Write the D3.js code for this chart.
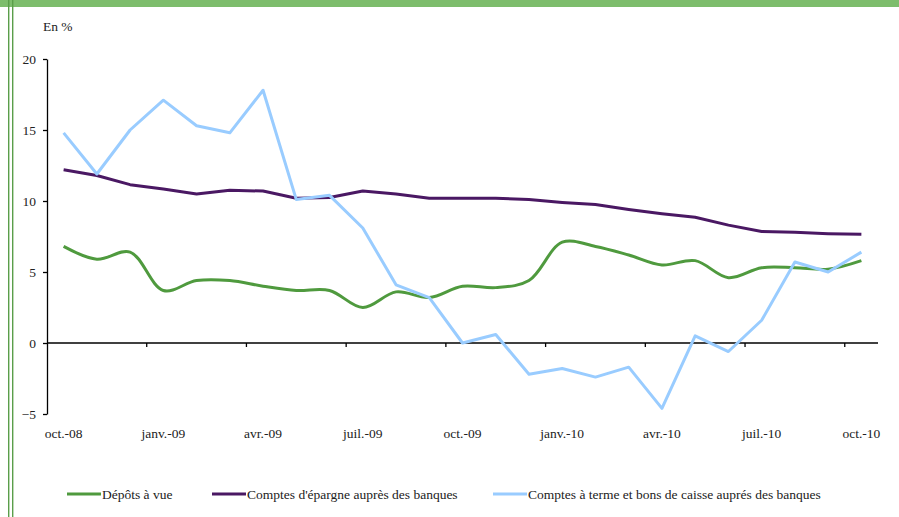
<!DOCTYPE html>
<html>
<head>
<meta charset="utf-8">
<script src="https://cdn.jsdelivr.net/npm/d3@7"></script>
<style>
  body { margin: 0; background: #fff; }
  svg text { font-family: "Liberation Serif", "DejaVu Serif", serif; }
</style>
</head>
<body>
<svg id="chart" width="899" height="517"></svg>
<script>
// months, oct-08 .. oct-10
const months = [
  "oct.-08", "nov.-08", "déc.-08", "janv.-09", "févr.-09", "mars-09", "avr.-09",
  "mai-09", "juin-09", "juil.-09", "août-09", "sept.-09", "oct.-09", "nov.-09",
  "déc.-09", "janv.-10", "févr.-10", "mars-10", "avr.-10", "mai-10", "juin-10",
  "juil.-10", "août-10", "sept.-10", "oct.-10"
];
const yTicks = [-5, 0, 5, 10, 15, 20];

const depots = [6.8, 5.9, 6.4, 3.7, 4.4, 4.4, 4.0, 3.7, 3.7, 2.5, 3.6, 3.2, 4.0,
  3.9, 4.4, 7.1, 6.8, 6.2, 5.5, 5.8, 4.6, 5.3, 5.3, 5.2, 5.8];
const epargne = [12.2, 11.8, 11.15, 10.85, 10.5, 10.75, 10.7, 10.2, 10.25, 10.7,
  10.5, 10.2, 10.2, 10.2, 10.1, 9.9, 9.75, 9.4, 9.1, 8.85, 8.3, 7.85, 7.8, 7.7, 7.65];
const terme = [14.8, 11.9, 15.0, 17.1, 15.3, 14.8, 17.8, 10.1, 10.4, 8.1, 4.1,
  3.2, 0.0, 0.6, -2.2, -1.8, -2.4, -1.7, -4.6, 0.5, -0.6, 1.6, 5.7, 5.0, 6.4];

const series = [
  { name: "Dépôts à vue", values: depots, color: "#4f9a3e", curve: d3.curveCatmullRom.alpha(0.5) },
  { name: "Comptes d'épargne auprès des banques", values: epargne, color: "#4a1863", curve: d3.curveLinear },
  { name: "Comptes à terme et bons de caisse auprés des banques", values: terme, color: "#99ccff", curve: d3.curveLinear }
];

const FONT = "'Liberation Serif', 'DejaVu Serif', serif";
const svg = d3.select("#chart");

// frame: green bar on top, double rule on the left
svg.append("rect").attr("x", 0).attr("y", 0).attr("width", 899).attr("height", 7).attr("fill", "#7dbd6c");
svg.append("rect").attr("x", 8).attr("y", 0).attr("width", 1.4).attr("height", 517).attr("fill", "#5a9e4a");
svg.append("rect").attr("x", 12).attr("y", 0).attr("width", 1.4).attr("height", 517).attr("fill", "#5a9e4a");

const x = d3.scaleBand().domain(months).range([47, 878]).padding(0);
const y = d3.scaleLinear().domain([-5, 20]).range([414, 59]);

// y axis
const yAxis = d3.axisLeft(y).tickValues(yTicks).tickSizeInner(4).tickSizeOuter(0).tickPadding(7);
const gy = svg.append("g").attr("transform", "translate(47,0)").call(yAxis)
  .attr("font-family", FONT).attr("font-size", 13.5);
gy.select(".domain").attr("stroke", "#000").attr("stroke-width", 1.3);
gy.selectAll(".tick line").attr("stroke", "#000").attr("stroke-width", 1.3);
gy.selectAll("text").attr("fill", "#222");

// x axis along zero
const y0 = y(0);
svg.append("line").attr("x1", 47).attr("x2", x.range()[1]).attr("y1", y0).attr("y2", y0)
  .attr("stroke", "#000").attr("stroke-width", 1.3);
const boundaries = d3.range(3, months.length, 3);
svg.selectAll("line.xt").data(boundaries).enter().append("line").attr("class", "xt")
  .attr("x1", (k) => x(months[k])).attr("x2", (k) => x(months[k]))
  .attr("y1", y0).attr("y2", y0 + 4).attr("stroke", "#000").attr("stroke-width", 1.3);

const labelled = months.filter((d, i) => i % 3 === 0);
svg.selectAll("text.xl").data(labelled).enter().append("text").attr("class", "xl")
  .attr("x", (d) => x(d) + x.bandwidth() / 2).attr("y", 438)
  .attr("text-anchor", "middle").attr("font-size", 13.5).attr("font-family", FONT).attr("fill", "#222")
  .text((d) => d);

svg.append("text").attr("x", 43).attr("y", 31).attr("font-size", 13.5).attr("font-family", FONT)
  .attr("fill", "#222").text("En %");

// lines
const cx = (i) => x(months[i]) + x.bandwidth() / 2;
series.forEach((s) => {
  const line = d3.line().x((d, i) => cx(i)).y((d) => y(d)).curve(s.curve);
  svg.append("path").datum(s.values).attr("d", line)
    .attr("fill", "none").attr("stroke", s.color).attr("stroke-width", 3)
    .attr("stroke-linejoin", "round");
});

// legend
const legendX = [67, 212, 493];
const lg = svg.selectAll("g.leg").data(series).enter().append("g").attr("class", "leg")
  .attr("transform", (d, i) => `translate(${legendX[i]},494)`);
lg.append("line").attr("x1", 0).attr("x2", 34).attr("y1", 0).attr("y2", 0)
  .attr("stroke", (d) => d.color).attr("stroke-width", 3);
lg.append("text").attr("x", 35).attr("y", 4.5).attr("font-size", 13.5).attr("font-family", FONT)
  .attr("fill", "#222").text((d) => d.name);
</script>
</body>
</html>
